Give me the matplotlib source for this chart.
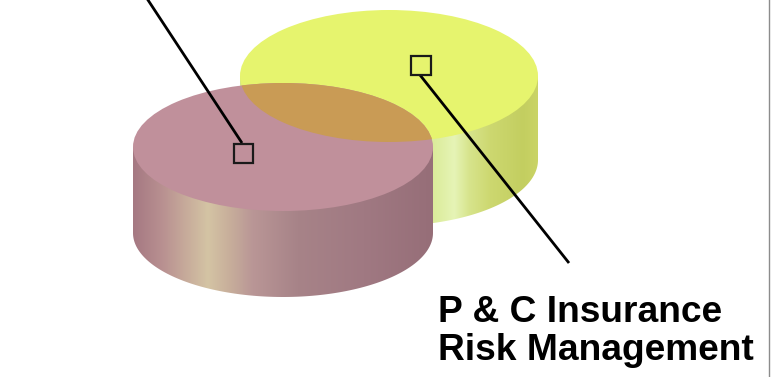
import numpy as np
import matplotlib
matplotlib.use("Agg")
import matplotlib.pyplot as plt
from matplotlib.patches import Ellipse, PathPatch, Rectangle
from matplotlib.path import Path

# Label text shown beside the cylinders
label_lines = ["P & C Insurance", "Risk Management"]

# Top-face colours of the two cylinders and of their overlap
pink_top = "#c0909b"
yellow_top = "#e6f46e"
overlap_top = "#c99b55"

# Horizontal shading of the cylinder walls: (fraction across, RGB)
pink_wall = [(0.00, (165, 120, 130)), (0.10, (185, 145, 145)), (0.25, (212, 196, 164)),
             (0.32, (200, 175, 155)), (0.40, (185, 150, 150)), (0.55, (167, 131, 136)),
             (0.77, (160, 121, 130)), (1.00, (150, 110, 120))]
yellow_wall = [(0.00, (215, 230, 140)), (0.62, (215, 232, 145)), (0.67, (222, 238, 162)),
               (0.72, (230, 244, 182)), (0.77, (215, 228, 140)), (0.84, (205, 216, 112)),
               (0.95, (195, 206, 96)), (1.00, (202, 212, 102))]

W, H = 771, 377
fig = plt.figure(figsize=(W / 100, H / 100), dpi=100)
ax = fig.add_axes([0, 0, 1, 1])
ax.set_xlim(0, W)
ax.set_ylim(H, 0)
ax.axis("off")


def wall_image(stops, n=600):
    xs = np.linspace(0, 1, n)
    fr = [s[0] for s in stops]
    cols = np.array([s[1] for s in stops], dtype=float) / 255.0
    img = np.stack([np.interp(xs, fr, cols[:, k]) for k in range(3)], axis=-1)
    return img[np.newaxis, :, :]


def cylinder(cx, cy, a, b, h, top_color, stops, z):
    # wall: rectangle plus lower half of the bottom ellipse
    t = np.linspace(np.pi, 0, 120)
    verts = [(cx - a, cy), (cx - a, cy + h)]
    verts += list(zip(cx + a * np.cos(t), cy + h + b * np.sin(t)))
    verts += [(cx + a, cy), (cx - a, cy)]
    codes = [Path.MOVETO] + [Path.LINETO] * (len(verts) - 2) + [Path.CLOSEPOLY]
    wall = PathPatch(Path(verts, codes), facecolor="none", edgecolor="none",
                     transform=ax.transData, zorder=z)
    ax.add_patch(wall)
    im = ax.imshow(wall_image(stops), extent=(cx - a, cx + a, cy + h + b, cy - b),
                   aspect="auto", interpolation="bilinear", zorder=z)
    im.set_clip_path(wall)
    top = Ellipse((cx, cy), 2 * a, 2 * b, facecolor=top_color, edgecolor="none",
                  zorder=z + 0.5)
    ax.add_patch(top)
    return top


yellow = cylinder(389, 76, 149, 66, 84, yellow_top, yellow_wall, 1)
pink = cylinder(283, 147, 150, 64, 86, pink_top, pink_wall, 3)

# overlap of the two top faces
lens = Ellipse((283, 147), 300, 128, facecolor=overlap_top, edgecolor="none", zorder=4)
ax.add_patch(lens)
lens.set_clip_path(yellow)

# leader lines with square markers
ax.plot([146, 242], [-3, 143], color="black", lw=2.0, solid_capstyle="butt", zorder=6)
ax.plot([420, 569], [75, 263], color="black", lw=2.0, solid_capstyle="butt", zorder=6)
ax.add_patch(Rectangle((233.5, 143.5), 19, 19, facecolor="none", edgecolor="#1a1a1a",
                       lw=1.6, zorder=7))
ax.add_patch(Rectangle((410.5, 56), 20, 19, facecolor="none", edgecolor="#1a1a1a",
                       lw=1.6, zorder=7))

# label
for i, line in enumerate(label_lines):
    ax.text(438, 322 + 38 * i, line, fontsize=26.7, fontweight="bold",
            family="Liberation Sans", color="black", va="baseline", ha="left", zorder=8)

# thin frame edge on the right
ax.plot([768.5, 768.5], [0, H], color="#8c8c8c", lw=1.0, zorder=8)

ax.set_xlim(0, W)
ax.set_ylim(H, 0)
fig.savefig("out.png", dpi=100)
